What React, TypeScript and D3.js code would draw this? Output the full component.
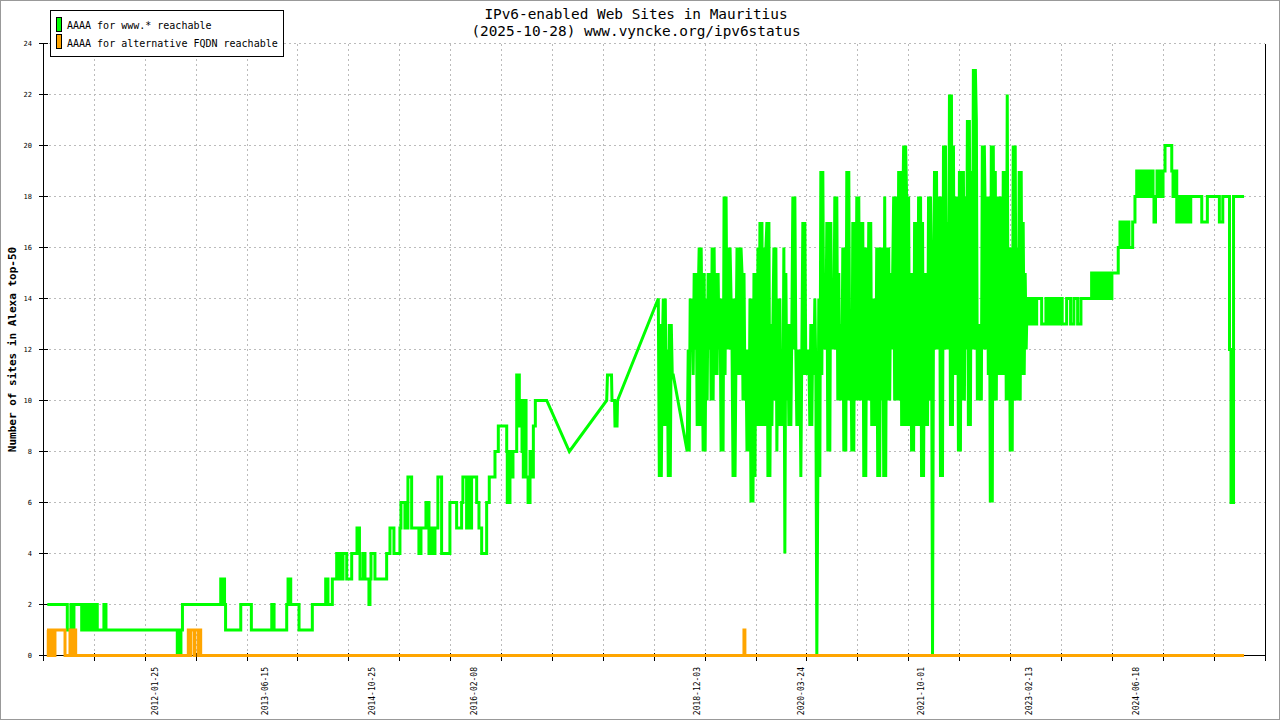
import * as d3 from "d3";

// y axis ticks (sites)
const yTickValues = [0, 2, 4, 6, 8, 10, 12, 14, 16, 18, 20, 22, 24];

// date labels printed under the x axis
const dateTickLabels = [
  "2012-01-25", "2013-06-15", "2014-10-25", "2016-02-08", "2018-12-03",
  "2020-03-24", "2021-10-01", "2023-02-13", "2024-06-18",
];

// x domain in decimal years
const xDomainYears = [2010.658, 2026.095];
const seriesEnd = 2025.83;

// AAAA for www.* : step changes 2010-2016 (value holds until next change)
const wwwRunYears = [
  2010.706, 2010.959, 2011.005, 2011.024, 2011.043, 2011.141, 2011.157, 2011.176, 2011.195, 2011.208,
  2011.226, 2011.239, 2011.267, 2011.296, 2011.309, 2011.338, 2011.422, 2011.448, 2012.349, 2012.364,
  2012.377, 2012.395, 2012.414, 2012.897, 2012.914, 2012.926, 2012.945, 2012.958, 2013.150, 2013.284,
  2013.542, 2013.571, 2013.731, 2013.748, 2013.760, 2013.773, 2013.782, 2013.887, 2014.055, 2014.224,
  2014.253, 2014.308, 2014.363, 2014.380, 2014.392, 2014.426, 2014.443, 2014.490, 2014.553, 2014.620,
  2014.651, 2014.658, 2014.699, 2014.721, 2014.771, 2014.784, 2014.797, 2014.847, 2014.995, 2015.037,
  2015.087, 2015.163, 2015.176, 2015.226, 2015.264, 2015.311, 2015.403, 2015.429, 2015.492, 2015.530,
  2015.555, 2015.580, 2015.606, 2015.643, 2015.690, 2015.795, 2015.880, 2015.943, 2015.959, 2016.006,
  2016.023, 2016.035, 2016.069, 2016.133, 2016.162, 2016.196, 2016.259, 2016.292, 2016.364, 2016.406,
  2016.512, 2016.519, 2016.553, 2016.579, 2016.591, 2016.638, 2016.671, 2016.692, 2016.705, 2016.721,
  2016.743, 2016.756, 2016.781, 2016.806, 2016.819, 2016.848, 2016.873, 2017.017,
];
const wwwRunValues = [
  2, 1, 2, 1, 2, 1, 2, 1, 2, 1,
  2, 1, 2, 1, 2, 1, 2, 1, 0, 1,
  0, 1, 2, 3, 2, 3, 2, 1, 2, 1,
  2, 1, 2, 3, 2, 3, 2, 1, 2, 3,
  2, 3, 4, 3, 4, 3, 4, 3, 4, 5,
  4, 3, 4, 3, 2, 3, 4, 3, 4, 5,
  4, 5, 6, 5, 7, 5, 4, 5, 6, 4,
  5, 4, 5, 7, 4, 6, 5, 6, 7, 5,
  7, 5, 7, 6, 5, 4, 6, 7, 8, 9,
  8, 6, 8, 7, 8, 11, 9, 10, 8, 7,
  10, 7, 6, 8, 7, 9, 10, 10,
];

// sparse measurements 2017 (joined by straight lines)
const wwwGapYears = [2017.303, 2017.775, 2017.785, 2017.836, 2017.842, 2017.874, 2017.880, 2017.906, 2017.912];
const wwwGapValues = [8, 10, 11, 11, 10, 10, 9, 9, 10];

// dense measurements 2018-2023, one every ~4.6 days (null = no measurement)
const wwwDenseStart = 2018.428;
const wwwDenseStep = 0.0126;
const wwwDenseValues: (number | null)[] = [
  14, 7, 13, 7, 12, 14, 9, 14, 9, 12,
  7, 13, 7, 13, 11, 11,
  null, null, null, null, null, null, null, null, null, null, null, null, null,
  8, 12, 8, 14, 12, 14, 11, 15, 12, 15,
  9, 14, 16, 9, 16, 12, 8, 15, 8, 14,
  10, 15, 12, 15, 10, 16, 10, 16, 11, 15,
  11, 15, 12, 14, 8, 14, 8, 18, 11, 18,
  12, 16, 12, 16, 14, 12, 7, 14, 7, 12,
  16, 11, 16, 11, 16, 15, 10, 15, 10, 12,
  8, 12, 8, 14, 6, 14, 6, 15, 7, 15,
  9, 16, 9, 17, 9, 17, 9, 16, 9, 16,
  17, 7, 17, 7, 13, 9, 13, 16, 10, 16,
  8, 14, 9, 14, 9, 12, 9, 16, 4, 15,
  10, 13, 9, 13, 9, 13, 18, 12, 18, 12,
  9, 12, 9, 12, 7, 12, 17, 11, 17, 11,
  12, 11, 12, 9, 13, 9, 13, 11, 14, 11,
  0, 7, 14, 7, 19, 11, 19, 12, 14, 12,
  17, 8, 17, 8, 17, 12, 14, 12, 18, 12,
  18, 10, 15, 10, 13, 10, 16, 8, 16, 8,
  19, 10, 19, 10, 13, 8, 17, 8, 17, 10,
  18, 10, 18, 10, 17, 10, 17, 7, 16, 7,
  16, 10, 17, 10, 17, 9, 14, 9, 14, 9,
  16, 7, 16, 7, 16, 10, 16, 7, 18, 7,
  16, 10, 16, 10, 15, 12, 15, 18, 10, 18,
  15, 10, 19, 10, 19, 9, 17, 20, 9, 20,
  18, 9, 18, 9, 15, 8, 15, 8, 17, 9,
  17, 9, 18, 9, 18, 7, 17, 7, 15, 9,
  15, 9, 18, 10, 18, 14, 0, 14, 19, 12,
  19, 12, 14, 18, 7, 18, 7, 20, 12, 20,
  12, 17, 12, 22, 9, 22, 9, 20, 11, 18,
  11, 18, 8, 19, 8, 19, 10, 19, 10, 18,
  12, 21, 9, 21, 9, 19, 12, 23, 12, 23,
  21, 10, 13, 10, 13, 10, 20, 12, 20, 17,
  12, 18, 11, 18, 6, 20, 6, 20, 10, 19,
  10, 18, 11, 18, 11, 18, 11, 19, 11, 19,
  10, 22, 10, 16, 8, 16, 8, 20, 10, 20,
  10, 16, 10, 19, 10, 19, 11, 17, 11, 15,
  12, 14,
];

// step changes 2023-2025
const wwwLateYears = [
  2023.104, 2023.119, 2023.138, 2023.150, 2023.176, 2023.188, 2023.210, 2023.273, 2023.327, 2023.344,
  2023.378, 2023.391, 2023.416, 2023.428, 2023.454, 2023.466, 2023.495, 2023.533, 2023.589, 2023.639,
  2023.681, 2023.728, 2023.770, 2023.905, 2023.921, 2023.934, 2023.953, 2023.972, 2023.997, 2024.010,
  2024.035, 2024.048, 2024.073, 2024.086, 2024.111, 2024.124, 2024.149, 2024.161, 2024.241, 2024.263,
  2024.282, 2024.294, 2024.317, 2024.355, 2024.376, 2024.423, 2024.452, 2024.474, 2024.490, 2024.509,
  2024.528, 2024.547, 2024.566, 2024.579, 2024.604, 2024.616, 2024.642, 2024.654, 2024.680, 2024.692,
  2024.711, 2024.730, 2024.755, 2024.768, 2024.793, 2024.806, 2024.831, 2024.916, 2024.932, 2024.951,
  2024.979, 2024.996, 2025.015, 2025.034, 2025.053, 2025.071, 2025.090, 2025.109, 2025.128, 2025.156,
  2025.295, 2025.366, 2025.518, 2025.561, 2025.646, 2025.665, 2025.697, seriesEnd,
];
const wwwLateValues = [
  14, 13, 14, 13, 14, 13, 14, 13, 14, 13,
  14, 13, 14, 13, 14, 13, 14, 13, 14, 13,
  14, 13, 14, 15, 14, 15, 14, 15, 14, 15,
  14, 15, 14, 15, 14, 15, 14, 15, 16, 17,
  16, 17, 16, 17, 16, 17, 18, 19, 18, 19,
  18, 19, 18, 19, 18, 19, 18, 19, 18, 17,
  18, 19, 18, 19, 18, 19, 20, 19, 18, 19,
  17, 18, 17, 18, 17, 18, 17, 18, 17, 18,
  17, 18, 17, 18, 12, 6, 18, 18,
];

// AAAA for alternative FQDN : step changes
const altRunYears = [
  2010.702, 2010.718, 2010.734, 2010.753, 2010.772, 2010.784, 2010.803, 2010.930, 2010.993, 2011.012,
  2011.031, 2011.065, 2012.488, 2012.503, 2012.516, 2012.560, 2012.572, 2012.617, 2012.629, 2012.644,
  2019.511, 2019.523, seriesEnd,
];
const altRunValues = [
  1, 0, 1, 0, 1, 0, 1, 0, 1, 0,
  1, 0, 1, 0, 1, 0, 1, 0, 1, 0,
  1, 0, 0,
];

const GREEN = "#00ff00";
const ORANGE = "#ffa500";
const FONT = "'DejaVu Sans Mono', monospace";

function yearToDate(yr: number) {
  const y0 = Math.floor(yr);
  const a = Date.UTC(y0, 0, 1);
  const b = Date.UTC(y0 + 1, 0, 1);
  return new Date(a + (yr - y0) * (b - a));
}

function stepPoints(years: number[], values: number[]) {
  const pts: [number, number][] = [];
  years.forEach((yr, i) => {
    pts.push([yr, values[i]]);
    if (i < years.length - 1) pts.push([years[i + 1], values[i]]);
  });
  return pts;
}

export default function App() {
  const x = d3
    .scaleUtc()
    .domain([yearToDate(xDomainYears[0]), yearToDate(xDomainYears[1])])
    .range([43.5, 1265]);
  const y = d3.scaleLinear().domain([0, 24]).range([655.5, 43.5]);
  const [x0, x1] = x.range();
  const [yb, yt] = y.range();

  const wwwPoints: [number, number][] = [
    ...stepPoints(wwwRunYears, wwwRunValues),
    ...wwwGapYears.map((yr, i) => [yr, wwwGapValues[i]] as [number, number]),
    ...wwwDenseValues
      .map((v, i) => [wwwDenseStart + i * wwwDenseStep, v] as [number, number | null])
      .filter((d) => d[1] !== null) as [number, number][],
    ...stepPoints(wwwLateYears, wwwLateValues),
  ];
  const altPoints = stepPoints(altRunYears, altRunValues);

  const line = d3
    .line<[number, number]>()
    .x((d) => x(yearToDate(d[0])))
    .y((d) => y(d[1]));

  const gridX = d3.range(25).map((i) => x0 + (i * (x1 - x0)) / 24);
  const parse = d3.utcParse("%Y-%m-%d");

  return (
    <svg
      width={1280}
      height={720}
      style={{ position: "absolute", left: 0, top: 0, background: "#fff" }}
    >
      <rect x={0.5} y={0.5} width={1279} height={719} fill="#fff" stroke="#999" />

      {/* grid */}
      <g stroke="#bbb" strokeDasharray="2,3" shapeRendering="crispEdges">
        {yTickValues
          .filter((v) => v > 0)
          .map((v) => (
            <line key={"h" + v} x1={x0} x2={x1} y1={y(v)} y2={y(v)} />
          ))}
        {gridX.slice(1, -1).map((gx, i) => (
          <line key={"v" + i} x1={gx} x2={gx} y1={yt} y2={yb} />
        ))}
      </g>

      {/* axes */}
      <g stroke="#000" shapeRendering="crispEdges">
        <line x1={x0} x2={x0} y1={yt} y2={yb + 5} />
        <line x1={x1} x2={x1} y1={yt} y2={yb + 5} />
        <line x1={x0} x2={x1} y1={yb} y2={yb} />
        {yTickValues.map((v) => (
          <line key={"yt" + v} x1={x0 - 5} x2={x0 + 4} y1={y(v)} y2={y(v)} />
        ))}
        {gridX.map((gx, i) => (
          <line key={"xt" + i} x1={gx} x2={gx} y1={yb - 3} y2={yb + 5} />
        ))}
      </g>

      {/* series */}
      <path d={line(wwwPoints) ?? ""} fill="none" stroke={GREEN} strokeWidth={3} />
      <path d={line(altPoints) ?? ""} fill="none" stroke={ORANGE} strokeWidth={3} />

      {/* y tick labels */}
      <g fontFamily={FONT} fontSize={7} fill="#000" textAnchor="end">
        {yTickValues.map((v) => (
          <text key={"yl" + v} x={32} y={y(v)} dy="0.35em">
            {v}
          </text>
        ))}
      </g>

      {/* x date labels */}
      <g fontFamily={FONT} fontSize={8} fill="#000" textAnchor="end">
        {dateTickLabels.map((s) => {
          const px = x(parse(s) as Date);
          return (
            <text key={s} transform={`translate(${px + 3},667) rotate(-90)`}>
              {s}
            </text>
          );
        })}
      </g>

      {/* y axis title */}
      <text
        transform={`translate(16,${(yt + yb) / 2}) rotate(-90)`}
        textAnchor="middle"
        fontFamily={FONT}
        fontSize={11}
        fontWeight="bold"
        fill="#000"
      >
        Number of sites in Alexa top-50
      </text>

      {/* title */}
      <g fontFamily={FONT} fontSize={14.4} fill="#000" textAnchor="middle">
        <text x={636} y={18.5}>IPv6-enabled Web Sites in Mauritius</text>
        <text x={636} y={36}>(2025-10-28) www.vyncke.org/ipv6status</text>
      </g>

      {/* legend */}
      <g shapeRendering="crispEdges">
        <rect x={50.5} y={10.5} width={233} height={46} fill="#fff" stroke="#000" />
        <rect x={56.5} y={17.5} width={5} height={14} fill={GREEN} stroke="#000" />
        <rect x={56.5} y={34.5} width={5} height={14} fill={ORANGE} stroke="#000" />
      </g>
      <g fontFamily={FONT} fontSize={10} fill="#000">
        <text x={67} y={29}>AAAA for www.* reachable</text>
        <text x={67} y={46.5}>AAAA for alternative FQDN reachable</text>
      </g>
    </svg>
  );
}
